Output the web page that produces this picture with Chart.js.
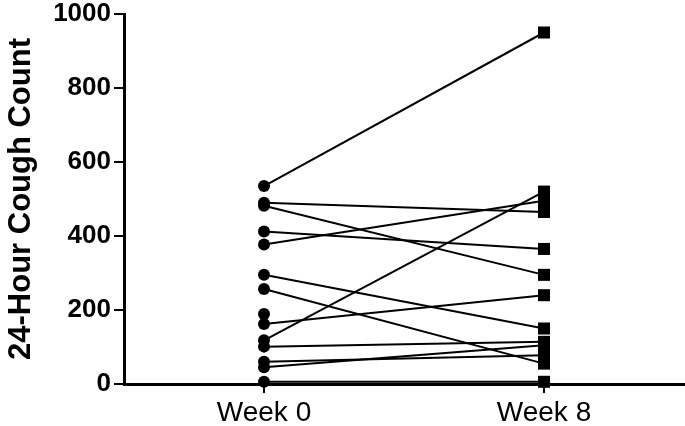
<!DOCTYPE html>
<html>
<head>
<meta charset="utf-8">
<script src="https://cdn.jsdelivr.net/npm/chart.js@4"></script>
<style>
  html, body { margin: 0; padding: 0; background: #fff; overflow: hidden; }
  canvas { display: block; }
</style>
</head>
<body>
<canvas id="chart" width="685" height="426"></canvas>
<script>
// データ
const timeLabels = ['Week 0', 'Week 8'];
const week0 = [535, 490, 482, 412, 377, 295, 257, 189, 162, 118, 101, 60, 45, 6];
const week8 = [950, 465, 295, 365, 495, 150, 55, null, 240, 520, 114, 78, 105, 6];
const yTicks = [0, 200, 400, 600, 800, 1000];
const yTitle = '24-Hour Cough Count';

// 被験者ごとのデータセット
const datasets = week0.map((v, i) => ({
    data: [{ x: 0, y: v }, { x: 1, y: week8[i] }],
    borderColor: '#000',
    backgroundColor: '#000',
    borderWidth: 2,
    pointStyle: ['circle', 'rect'],
    pointRadius: [6, 8.5],
    pointBorderWidth: 0,
    spanGaps: false,
    clip: false
}));

const ctx = document.getElementById('chart').getContext('2d');
new Chart(ctx, {
    type: 'line',
    data: { datasets: datasets },
    options: {
        responsive: false,
        animation: false,
        layout: { autoPadding: false, padding: { top: 14, right: 1, left: 0, bottom: 0 } },
        plugins: {
            legend: { display: false },
            tooltip: { enabled: false }
        },
        scales: {
            x: {
                type: 'linear',
                min: -0.5,
                max: 1.5,
                afterBuildTicks: scale => {
                    scale.ticks = timeLabels.map((_, i) => ({ value: i }));
                },
                afterFit: scale => {
                    scale.height = 42;
                    scale.paddingLeft = 0;
                    scale.paddingRight = 0;
                },
                border: { display: true, color: '#000', width: 3 },
                grid: { drawOnChartArea: false, drawTicks: true, tickLength: 9, color: '#000', lineWidth: 2 },
                ticks: {
                    color: '#000',
                    padding: 3,
                    maxRotation: 0,
                    font: { family: "'Liberation Sans', Arial, sans-serif", size: 28 },
                    callback: value => timeLabels[value]
                }
            },
            y: {
                min: 0,
                max: 1000,
                afterBuildTicks: scale => {
                    scale.ticks = yTicks.map(v => ({ value: v }));
                },
                afterFit: scale => {
                    scale.width = 124;
                    scale.paddingTop = 0;
                    scale.paddingBottom = 0;
                },
                border: { display: true, color: '#000', width: 3 },
                grid: { drawOnChartArea: false, drawTicks: true, tickLength: 10, color: '#000', lineWidth: 2 },
                ticks: {
                    color: '#000',
                    padding: 3,
                    font: { family: "'Liberation Sans', Arial, sans-serif", size: 26, weight: 'bold' },
                    callback: value => String(value)
                },
                title: {
                    display: true,
                    text: yTitle,
                    color: '#000',
                    padding: { top: 3, bottom: 0 },
                    font: { family: "'Liberation Sans', Arial, sans-serif", size: 31, weight: 'bold' }
                }
            }
        }
    }
});
</script>
</body>
</html>
